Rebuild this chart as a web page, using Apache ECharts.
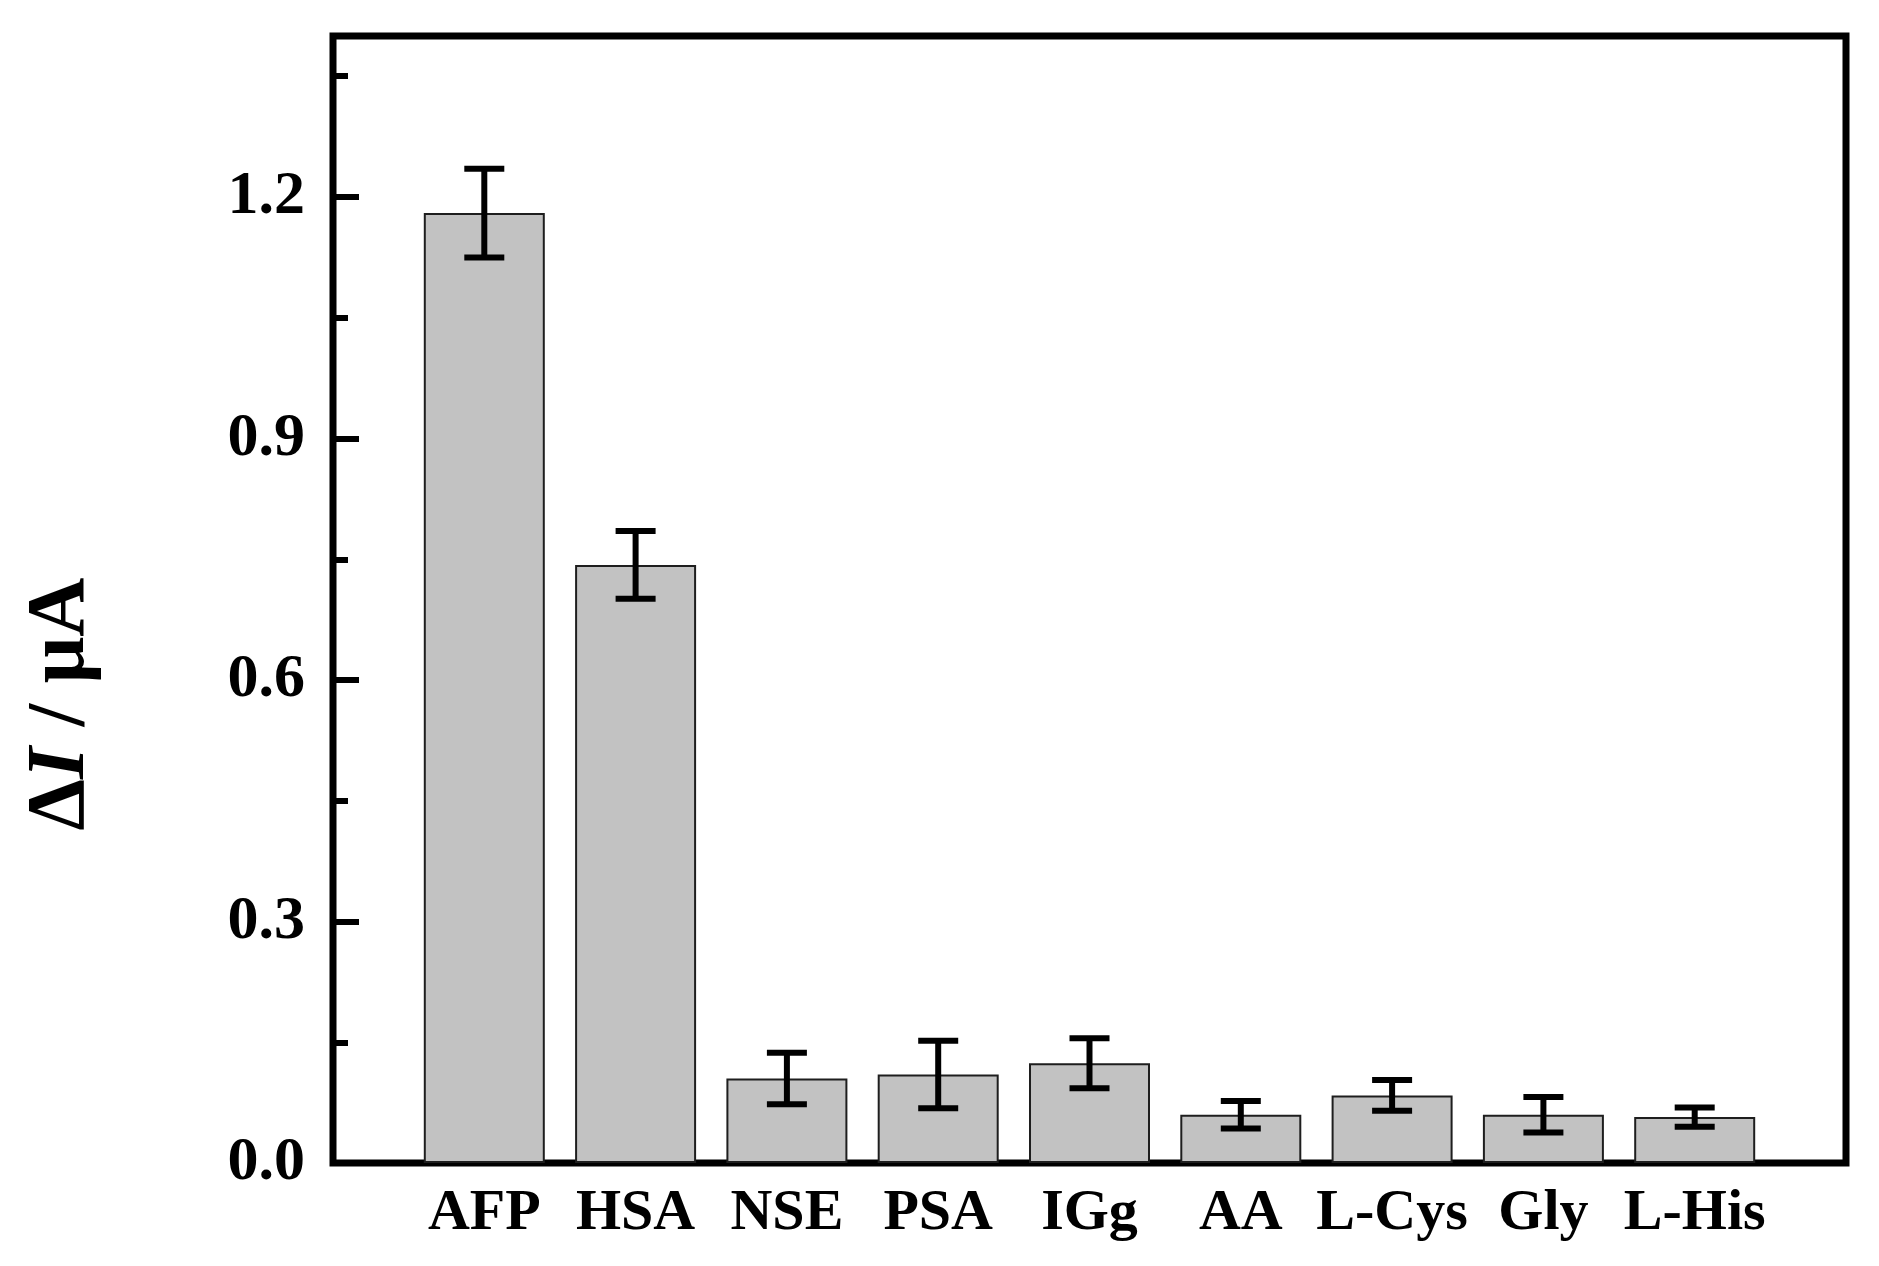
<!DOCTYPE html>
<html>
<head>
<meta charset="utf-8">
<script src="https://cdn.jsdelivr.net/npm/echarts@6/dist/echarts.min.js"></script>
<style>
  html, body { margin: 0; padding: 0; background: #fff; }
  #chart { width: 1879px; height: 1266px; }
</style>
</head>
<body>
<div id="chart"></div>
<script>
// categories, one bar each at x = 1..9
var categories = ["AFP", "HSA", "NSE", "PSA", "IGg", "AA", "L-Cys", "Gly", "L-His"];
// mean ΔI values (μA)
var values = [1.180, 0.743, 0.105, 0.110, 0.124, 0.060, 0.084, 0.060, 0.057];
// error (±) values
var errors = [0.055, 0.042, 0.032, 0.042, 0.031, 0.017, 0.019, 0.022, 0.012];
// y tick labels
var yTicks = [0, 0.3, 0.6, 0.9, 1.2];

var font = '"Liberation Serif", "Times New Roman", serif';

var barData = [];
var errData = [];
for (var i = 0; i < categories.length; i++) {
    barData.push([i + 1, values[i]]);
    errData.push([i + 1, values[i] - errors[i], values[i] + errors[i]]);
}

var chart = echarts.init(document.getElementById('chart'));
chart.setOption({
    animation: false,
    backgroundColor: '#fff',
    grid: {
        left: 333, right: 33, top: 36, bottom: 103,
        show: true, borderColor: '#000', borderWidth: 7,
        containLabel: false, outerBoundsMode: 'none'
    },
    xAxis: {
        type: 'value', min: 0, max: 10, interval: 1,
        splitLine: {show: false},
        axisLine: {show: false},
        axisTick: {show: false},
        axisLabel: {
            margin: 22,
            fontFamily: font, fontWeight: 'bold', fontSize: 58, color: '#000',
            formatter: function (v) { return categories[v - 1] || ''; }
        }
    },
    yAxis: [{
        type: 'value', position: 'left', min: 0, max: 1.4, interval: 0.3,
        splitLine: {show: false},
        axisLine: {show: false},
        axisTick: {show: true, inside: true, length: 26, lineStyle: {color: '#000', width: 6}},
        axisLabel: {
            margin: 28,
            fontFamily: font, fontWeight: 'bold', fontSize: 62, color: '#000',
            formatter: function (v) { return yTicks.indexOf(Math.round(v * 10) / 10) >= 0 ? v.toFixed(1) : ''; }
        }
    }, {
        // minor ticks every 0.15
        type: 'value', position: 'left', offset: 0, min: 0, max: 1.4, interval: 0.15,
        splitLine: {show: false},
        axisLine: {show: false},
        axisLabel: {show: false},
        axisTick: {show: true, inside: true, length: 15, lineStyle: {color: '#000', width: 6}}
    }],
    graphic: [{
        type: 'text',
        x: 62, y: 704,
        rotation: Math.PI / 2,
        style: {
            text: '{a|Δ}{b|I}{a| / μA}',
            align: 'center', verticalAlign: 'middle',
            fill: '#000',
            rich: {
                a: {fontFamily: font, fontWeight: 'bold', fontSize: 82},
                b: {fontFamily: font, fontWeight: 'bold', fontStyle: 'italic', fontSize: 82}
            }
        }
    }],
    series: [{
        type: 'bar',
        data: barData,
        barWidth: 121,
        itemStyle: {color: '#c2c2c2', borderColor: '#1e1e1e', borderWidth: 2}
    }, {
        type: 'custom',
        data: errData,
        z: 10,
        renderItem: function (params, api) {
            var x = api.value(0);
            var lo = api.coord([x, api.value(1)]);
            var hi = api.coord([x, api.value(2)]);
            var half = 20;
            var style = {stroke: '#000', lineWidth: 6};
            return {
                type: 'group',
                children: [
                    {type: 'line', shape: {x1: lo[0], y1: lo[1], x2: hi[0], y2: hi[1]}, style: style},
                    {type: 'line', shape: {x1: hi[0] - half, y1: hi[1], x2: hi[0] + half, y2: hi[1]}, style: style},
                    {type: 'line', shape: {x1: lo[0] - half, y1: lo[1], x2: lo[0] + half, y2: lo[1]}, style: style}
                ]
            };
        }
    }]
});
</script>
</body>
</html>
